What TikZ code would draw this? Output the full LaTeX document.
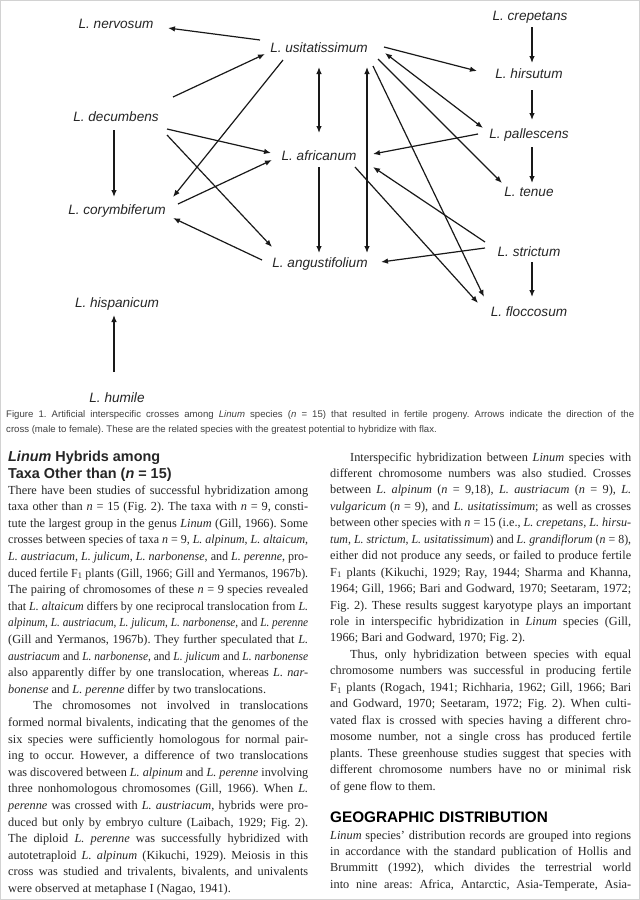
\documentclass[tikz,border=0pt]{standalone}
\usepackage{fontspec}
\usepackage{graphicx}
\setmainfont{Liberation Serif}
\setsansfont{Liberation Sans}
\usetikzlibrary{arrows.meta}
\frenchspacing
\newlength{\colw}
\newsavebox{\lnbox}
\newcommand{\jl}[1]{\sbox{\lnbox}{#1}\ifdim\wd\lnbox>\colw\relax\resizebox{\colw}{\height}{\usebox{\lnbox}}\else\makebox[\colw][s]{#1}\fi\par}
\newcommand{\lastl}[1]{\makebox[\colw][l]{#1}\par}
\newcommand{\Li}[1]{\textit{L. #1}}
\begin{document}
\begin{tikzpicture}[x=1pt,y=-1pt,
  sp/.style={font=\sffamily\itshape\fontsize{13.6}{16}\selectfont, inner sep=0, anchor=base, text=black!85},
  arr/.style={-{Latex[length=7pt,width=5.5pt]}, line width=1.2pt, black!90},
  dbl/.style={{Latex[length=7pt,width=5.5pt]}-{Latex[length=7pt,width=5.5pt]}, line width=1.2pt, black!90},
  txt/.style={inner sep=0, anchor=base west, text=black!85}]
\useasboundingbox (0,0) rectangle (640,900);
\fill[white] (0,0) rectangle (640,900);
\draw[gray!35, line width=1pt] (0.5,0.5) rectangle (639.5,899.5);

% species
\node[sp] (nerv) at (116,28) {L. nervosum};
\node[sp] (usit) at (319,52) {L. usitatissimum};
\node[sp] (crep) at (530,20) {L. crepetans};
\node[sp] (hirs) at (529,78) {L. hirsutum};
\node[sp] (decu) at (116,121) {L. decumbens};
\node[sp] (pall) at (529,138) {L. pallescens};
\node[sp] (afri) at (319,160) {L. africanum};
\node[sp] (tenu) at (529,196) {L. tenue};
\node[sp] (cory) at (117,214) {L. corymbiferum};
\node[sp] (stri) at (529,256) {L. strictum};
\node[sp] (angu) at (320,267) {L. angustifolium};
\node[sp] (floc) at (529,316) {L. floccosum};
\node[sp] (hisp) at (117,307) {L. hispanicum};
\node[sp] (humi) at (117,402) {L. humile};

% crosses
\draw[arr] ([shift={(-59,-12)}]usit.base) -- ([shift={(52,0)}]nerv.base);
\draw[arr] ([shift={(57,-24)}]decu.base) -- ([shift={(-54,2)}]usit.base);
\draw[arr] ([shift={(-36,8)}]usit.base) -- ([shift={(56,-17)}]cory.base);
\draw[dbl] ([shift={(0,15)}]usit.base) -- ([shift={(0,-27)}]afri.base);
\draw[dbl] ([shift={(48,15)}]usit.base) -- ([shift={(47,-14)}]angu.base);
\draw[arr] ([shift={(54,14)}]usit.base) -- ([shift={(-45,-19)}]floc.base);
\draw[arr] ([shift={(59,7)}]usit.base) -- ([shift={(-27,-13)}]tenu.base);
\draw[dbl] ([shift={(66,1)}]usit.base) -- ([shift={(-46,-10)}]pall.base);
\draw[arr] ([shift={(65,-5)}]usit.base) -- ([shift={(-52,-7)}]hirs.base);
\draw[arr] ([shift={(51,8)}]decu.base) -- ([shift={(-48,-7)}]afri.base);
\draw[arr] ([shift={(61,-10)}]cory.base) -- ([shift={(-47,0)}]afri.base);
\draw[arr] ([shift={(51,14)}]decu.base) -- ([shift={(-48,-20)}]angu.base);
\draw[arr] ([shift={(-58,-7)}]angu.base) -- ([shift={(56,4)}]cory.base);
\draw[arr] ([shift={(-2,9)}]decu.base) -- ([shift={(-3,-17)}]cory.base);
\draw[arr] ([shift={(0,7)}]afri.base) -- ([shift={(-1,-14)}]angu.base);
\draw[arr] ([shift={(-51,-4)}]pall.base) -- ([shift={(54,-6)}]afri.base);
\draw[arr] ([shift={(36,7)}]afri.base) -- ([shift={(-51,-13)}]floc.base);
\draw[arr] ([shift={(-44,-14)}]stri.base) -- ([shift={(54,7)}]afri.base);
\draw[arr] ([shift={(-44,-8)}]stri.base) -- ([shift={(61,-5)}]angu.base);
\draw[arr] ([shift={(2,7)}]crep.base) -- ([shift={(3,-15)}]hirs.base);
\draw[arr] ([shift={(3,12)}]hirs.base) -- ([shift={(3,-18)}]pall.base);
\draw[arr] ([shift={(3,9)}]pall.base) -- ([shift={(3,-13)}]tenu.base);
\draw[arr] ([shift={(3,6)}]stri.base) -- ([shift={(3,-19)}]floc.base);
\draw[arr] ([shift={(-3,-30)}]humi.base) -- ([shift={(-3,8)}]hisp.base);

% caption
\node[txt, text=black!75] (cap) at (6,417) {\begin{minipage}[t]{628pt}\setlength{\colw}{628pt}%
\sffamily\fontsize{9.6}{15}\selectfont\parindent0pt\parskip0pt
\jl{Figure 1. Artificial interspecific crosses among \textit{Linum} species (\textit{n} = 15) that resulted in fertile progeny. Arrows indicate the direction of the}
\lastl{cross (male to female). These are the related species with the greatest potential to hybridize with flax.}
\end{minipage}};

% left heading
\node[txt] (lhead) at (8,461) {\begin{minipage}[t]{300pt}%
\sffamily\bfseries\fontsize{14.4}{17}\selectfont\parindent0pt\parskip0pt
\textit{Linum} Hybrids among\par
Taxa Other than (\textit{n} = 15)
\end{minipage}};

% left column
\node[txt] (lcol) at (8,494) {\begin{minipage}[t]{300pt}\setlength{\colw}{300pt}%
\fontsize{12.3}{16.6}\selectfont\parindent0pt\parskip0pt\lineskiplimit-20pt
\jl{There have been studies of successful hybridization among}
\jl{taxa other than \textit{n} = 15 (Fig. 2). The taxa with \textit{n} = 9, consti-}
\jl{tute the largest group in the genus \textit{Linum} (Gill, 1966). Some}
\jl{crosses between species of taxa \textit{n} = 9, \Li{alpinum}, \Li{altaicum},}
\jl{\Li{austriacum}, \Li{julicum}, \Li{narbonense}, and \Li{perenne}, pro-}
\jl{duced fertile F\textsubscript{1} plants (Gill, 1966; Gill and Yermanos, 1967b).}
\jl{The pairing of chromosomes of these \textit{n} = 9 species revealed}
\jl{that \Li{altaicum} differs by one reciprocal translocation from \textit{L.}}
\jl{\textit{alpinum}, \Li{austriacum}, \Li{julicum}, \Li{narbonense}, and \Li{perenne}}
\jl{(Gill and Yermanos, 1967b). They further speculated that \textit{L.}}
\jl{\textit{austriacum} and \Li{narbonense}, and \Li{julicum} and \Li{narbonense}}
\jl{also apparently differ by one translocation, whereas \Li{nar-}}
\lastl{\textit{bonense} and \Li{perenne} differ by two translocations.}
\jl{\hspace*{25pt}The chromosomes not involved in translocations}
\jl{formed normal bivalents, indicating that the genomes of the}
\jl{six species were sufficiently homologous for normal pair-}
\jl{ing to occur. However, a difference of two translocations}
\jl{was discovered between \Li{alpinum} and \Li{perenne} involving}
\jl{three nonhomologous chromosomes (Gill, 1966). When \textit{L.}}
\jl{\textit{perenne} was crossed with \Li{austriacum}, hybrids were pro-}
\jl{duced but only by embryo culture (Laibach, 1929; Fig. 2).}
\jl{The diploid \Li{perenne} was successfully hybridized with}
\jl{autotetraploid \Li{alpinum} (Kikuchi, 1929). Meiosis in this}
\jl{cross was studied and trivalents, bivalents, and univalents}
\lastl{were observed at metaphase I (Nagao, 1941).}
\end{minipage}};

% right column
\node[txt] (rcol) at (330,461) {\begin{minipage}[t]{301pt}\setlength{\colw}{301pt}%
\fontsize{12.3}{16.45}\selectfont\parindent0pt\parskip0pt\lineskiplimit-20pt
\jl{\hspace*{20pt}Interspecific hybridization between \textit{Linum} species with}
\jl{different chromosome numbers was also studied. Crosses}
\jl{between \Li{alpinum} (\textit{n} = 9,18), \Li{austriacum} (\textit{n} = 9), \textit{L.}}
\jl{\textit{vulgaricum} (\textit{n} = 9), and \Li{usitatissimum}; as well as crosses}
\jl{between other species with \textit{n} = 15 (i.e., \Li{crepetans}, \Li{hirsu-}}
\jl{\textit{tum}, \Li{strictum}, \Li{usitatissimum}) and \Li{grandiflorum} (\textit{n} = 8),}
\jl{either did not produce any seeds, or failed to produce fertile}
\jl{F\textsubscript{1} plants (Kikuchi, 1929; Ray, 1944; Sharma and Khanna,}
\jl{1964; Gill, 1966; Bari and Godward, 1970; Seetaram, 1972;}
\jl{Fig. 2). These results suggest karyotype plays an important}
\jl{role in interspecific hybridization in \textit{Linum} species (Gill,}
\lastl{1966; Bari and Godward, 1970; Fig. 2).}
\jl{\hspace*{20pt}Thus, only hybridization between species with equal}
\jl{chromosome numbers was successful in producing fertile}
\jl{F\textsubscript{1} plants (Rogach, 1941; Richharia, 1962; Gill, 1966; Bari}
\jl{and Godward, 1970; Seetaram, 1972; Fig. 2). When culti-}
\jl{vated flax is crossed with species having a different chro-}
\jl{mosome number, not a single cross has produced fertile}
\jl{plants. These greenhouse studies suggest that species with}
\jl{different chromosome numbers have no or minimal risk}
\lastl{of gene flow to them.}
\end{minipage}};

% right heading
\node[txt, text=black] (rhead) at (330,822.5) {\sffamily\bfseries\fontsize{15.3}{18}\selectfont GEOGRAPHIC DISTRIBUTION};

\node[txt] (rcol2) at (330,839) {\begin{minipage}[t]{301pt}\setlength{\colw}{301pt}%
\fontsize{12.3}{16.45}\selectfont\parindent0pt\parskip0pt\lineskiplimit-20pt
\jl{\textit{Linum} species' distribution records are grouped into regions}
\jl{in accordance with the standard publication of Hollis and}
\jl{Brummitt (1992), which divides the terrestrial world}
\jl{into nine areas: Africa, Antarctic, Asia-Temperate, Asia-}
\end{minipage}};
\end{tikzpicture}
\end{document}
